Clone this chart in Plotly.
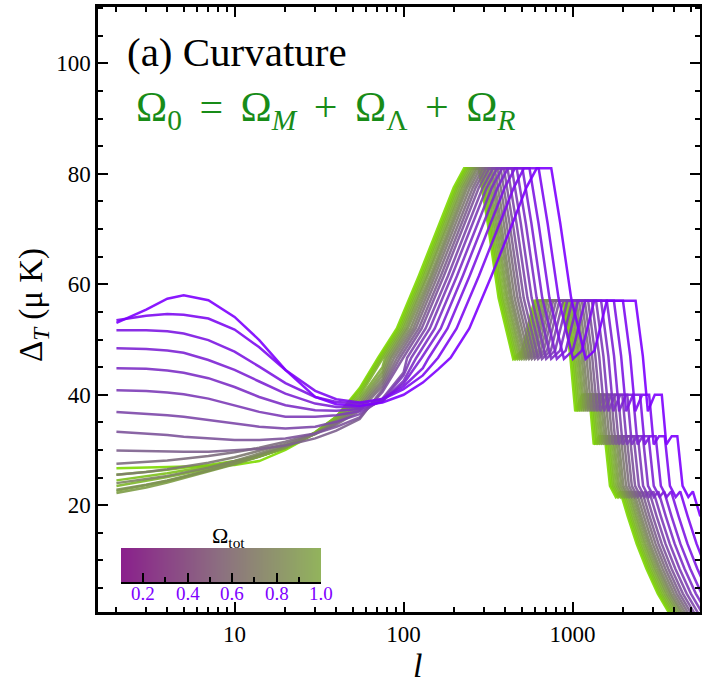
import plotly.graph_objects as go

# ---------------- data ----------------
omega_tot = [0.10, 0.15, 0.20, 0.25, 0.30, 0.35, 0.40, 0.45, 0.50, 0.55,
             0.60, 0.65, 0.70, 0.75, 0.80, 0.85, 0.90, 0.95, 1.00]

# low-multipole part (Sachs-Wolfe / ISW plateau), one row per curve
low_l = [2, 3, 4, 5, 7, 10, 14, 20, 30, 40, 55, 75, 100, 130, 160]
low_vals = [
    [53.0, 55.4, 57.4, 58.0, 57.1, 54.1, 49.9, 44.5, 39.6, 38.3, 38.0, 38.6, 40.0, 42.2, 44.6],
    [53.5, 54.3, 54.6, 54.5, 53.8, 51.8, 48.6, 44.5, 40.7, 39.2, 38.6, 39.2, 41.0, 43.5],
    [51.7, 51.7, 51.5, 51.1, 49.9, 47.8, 45.1, 42.1, 39.6, 38.7, 38.4, 39.3, 41.5, 44.8],
    [48.4, 48.3, 48.0, 47.6, 46.3, 44.5, 42.4, 40.2, 38.4, 37.8, 37.8, 39.0, 42.0],
    [44.8, 44.7, 44.4, 44.0, 43.0, 41.4, 39.6, 38.1, 37.2, 37.1, 37.4, 38.8, 42.5],
    [40.8, 40.7, 40.4, 40.1, 39.3, 38.1, 36.9, 36.0, 36.0, 36.3, 37.0, 39.0, 43.5],
    [36.9, 36.6, 36.3, 36.0, 35.4, 34.8, 34.2, 33.9, 34.2, 35.1, 36.5, 39.3, 44.0],
    [33.3, 33.0, 32.7, 32.4, 32.1, 31.8, 31.8, 32.1, 33.0, 34.2, 35.9, 40.5],
    [29.9, 29.8, 29.7, 29.7, 29.7, 29.9, 30.2, 30.8, 32.1, 33.5, 35.6, 41.0],
    [27.5, 27.8, 28.1, 28.4, 28.9, 29.6, 30.4, 31.5, 33.0, 34.6, 37.1, 41.6],
    [25.5, 26.0, 26.5, 27.0, 27.7, 28.7, 29.8, 31.1, 32.9, 34.8, 37.5, 42.2],
    [24.0, 24.7, 25.3, 25.9, 26.8, 28.0, 29.3, 30.8, 32.9, 35.0, 37.9, 42.8],
    [22.8, 23.7, 24.5, 25.2, 26.3, 27.6, 29.0, 30.6, 32.9, 35.2, 38.3, 43.5],
    [22.2, 23.2, 24.1, 24.9, 26.0, 27.4, 28.8, 30.5, 33.0, 35.4, 38.8, 44.2],
    [22.6, 23.6, 24.4, 25.1, 26.2, 27.5, 28.8, 30.4, 33.0, 35.6, 39.3, 45.0],
    [23.5, 24.4, 25.1, 25.7, 26.6, 27.7, 28.8, 30.4, 33.1, 35.8, 39.8],
    [24.5, 25.2, 25.8, 26.3, 27.0, 27.9, 28.9, 30.4, 33.2, 36.0, 40.3],
    [25.5, 26.0, 26.4, 26.8, 27.3, 28.0, 28.9, 30.3, 33.2, 36.0, 40.8],
    [26.7, 26.8, 26.9, 27.0, 27.1, 27.3, 28.0, 30.0, 33.0, 36.0, 41.2],
]

# acoustic-peak part: multipoles of the turning points of each curve
acoustic_ell = [
    [190, 245, 331, 454, 533, 613, 748, 846, 981, 1195, 1349, 1594, 2360, 2605, 2789, 3065, 3372, 3586, 3862, 4168, 4475, 4843, 5149, 5701],
    [160, 206, 279, 382, 449, 516, 630, 712, 826, 1006, 1135, 1342, 1987, 2193, 2348, 2580, 2838, 3019, 3251, 3509, 3767, 4076, 4334, 4799, 5418, 6192],
    [141, 182, 246, 337, 397, 456, 556, 629, 730, 889, 1003, 1186, 1756, 1938, 2075, 2280, 2508, 2668, 2873, 3101, 3329, 3602, 3830, 4241, 4788, 5472, 6384],
    [128, 166, 224, 306, 360, 414, 505, 571, 662, 807, 911, 1076, 1594, 1760, 1884, 2070, 2277, 2422, 2608, 2815, 3022, 3271, 3478, 3850, 4347, 4968, 5796],
    [119, 153, 207, 283, 333, 383, 467, 529, 613, 747, 843, 996, 1475, 1628, 1743, 1915, 2107, 2241, 2413, 2604, 2796, 3026, 3217, 3562, 4022, 4596, 5362, 6396],
    [111, 143, 193, 265, 311, 358, 437, 494, 573, 698, 788, 931, 1378, 1522, 1629, 1790, 1969, 2094, 2255, 2434, 2613, 2828, 3007, 3329, 3759, 4296, 5012, 5979],
    [105, 135, 183, 250, 294, 338, 412, 466, 541, 659, 744, 879, 1301, 1437, 1538, 1690, 1859, 1977, 2129, 2298, 2467, 2670, 2839, 3143, 3549, 4056, 4732, 5645, 10140],
    [99.5, 128, 173, 238, 279, 321, 392, 443, 514, 626, 706, 835, 1236, 1364, 1461, 1605, 1766, 1878, 2022, 2183, 2343, 2536, 2696, 2985, 3371, 3852, 4494, 5361, 9630],
    [95.2, 123, 166, 227, 267, 307, 375, 424, 491, 599, 675, 798, 1182, 1305, 1397, 1535, 1689, 1796, 1934, 2088, 2241, 2425, 2579, 2855, 3224, 3684, 4298, 5127, 9210],
    [91.5, 118, 159, 218, 257, 295, 360, 407, 472, 575, 649, 767, 1136, 1254, 1342, 1475, 1623, 1726, 1859, 2006, 2154, 2331, 2478, 2744, 3098, 3540, 4130, 4927, 8850],
    [88.0, 114, 153, 210, 247, 284, 346, 392, 454, 554, 625, 738, 1093, 1207, 1292, 1420, 1562, 1661, 1789, 1931, 2073, 2244, 2386, 2641, 2982, 3408, 3976, 4743, 8520],
    [84.9, 110, 148, 203, 238, 274, 334, 378, 438, 534, 603, 712, 1055, 1165, 1247, 1370, 1507, 1603, 1726, 1863, 2000, 2165, 2302, 2548, 2877, 3288, 3836, 4576, 8220],
    [82.5, 106, 144, 197, 231, 266, 325, 367, 426, 519, 585, 692, 1024, 1131, 1210, 1330, 1463, 1556, 1676, 1809, 1942, 2101, 2234, 2474, 2793, 3192, 3724, 4442, 7980],
    [80.0, 103, 139, 191, 224, 258, 315, 356, 413, 503, 568, 671, 993, 1096, 1174, 1290, 1419, 1509, 1625, 1754, 1883, 2038, 2167, 2399, 2709, 3096, 3612, 4309, 7740],
    [77.8, 100, 136, 186, 218, 251, 306, 346, 402, 489, 552, 653, 966, 1067, 1142, 1255, 1380, 1468, 1581, 1707, 1832, 1983, 2108, 2334, 2636, 3012, 3514, 4192, 7530],
    [75.6, 97.6, 132, 181, 212, 244, 298, 337, 390, 476, 537, 634, 939, 1037, 1110, 1220, 1342, 1427, 1537, 1659, 1781, 1928, 2050, 2269, 2562, 2928, 3416, 4075, 7320],
    [73.8, 95.2, 129, 176, 207, 238, 290, 328, 381, 464, 524, 619, 916, 1012, 1083, 1190, 1309, 1392, 1499, 1618, 1737, 1880, 1999, 2213, 2499, 2856, 3332, 3975, 7140],
    [72.2, 93.2, 126, 172, 203, 233, 284, 322, 373, 454, 513, 606, 897, 990, 1060, 1165, 1282, 1363, 1468, 1584, 1701, 1841, 1957, 2167, 2446, 2796, 3262, 3891, 6990],
    [70.7, 91.2, 123, 169, 198, 228, 278, 315, 365, 445, 502, 593, 878, 969, 1037, 1140, 1254, 1334, 1436, 1550, 1664, 1801, 1915, 2120, 2394, 2736, 3192, 3808, 6840],
]
# the turning-point heights are common to all curves (peaks flatten at 81, 57, 40, 32.5, 22.5)
acoustic_dT = [46.7, 52.0, 61.5, 72.0, 77.5, 81.0, 81.0, 71.0, 57.5, 46.5, 48.0, 57.0, 57.0,
               47.0, 37.0, 40.0, 40.0, 31.0, 32.5, 32.5, 23.5, 21.5, 22.5, 18.0, 13.0,
               8.5, 4.0, 0.0, 0.0]

x_tick_vals = [10, 100, 1000]
x_tick_text = ["10", "100", "1000"]
y_tick_vals = [20, 40, 60, 80, 100]
bar_tick_vals = [0.2, 0.4, 0.6, 0.8, 1.0]
bar_tick_text = ["0.2", "0.4", "0.6", "0.8", "1.0"]

# ---------------- layout helpers ----------------
W, H = 702, 686
L, R, T, B = 98, 700, 7, 612
BAR_L, BAR_R, BAR_T, BAR_B = 121, 321, 548, 582


def fx(px):
    return (px - L) / (R - L)


def fy(py):
    return (B - py) / (B - T)


PURPLE = (126, 0, 255)
GREEN = (126, 218, 0)


def curve_color(om):
    t = (om - 0.1) / 0.9
    c = [round(PURPLE[i] + (GREEN[i] - PURPLE[i]) * t) for i in range(3)]
    return f"rgb({c[0]},{c[1]},{c[2]})"


fig = go.Figure()
for k in reversed(range(len(omega_tot))):
    v = low_vals[k]
    ae = acoustic_ell[k]
    xs = low_l[:len(v)] + ae
    ys = v + acoustic_dT[:len(ae)]
    fig.add_trace(go.Scatter(
        x=xs, y=ys, mode="lines",
        line=dict(color=curve_color(omega_tot[k]), width=2.5),
        opacity=0.9, showlegend=False, hoverinfo="skip",
    ))

# colour bar inset
fig.add_trace(go.Heatmap(
    z=[omega_tot], x=omega_tot, y=[0], xaxis="x2", yaxis="y2",
    colorscale=[[0, "rgb(138,32,140)"], [0.5, "rgb(140,112,128)"], [1, "rgb(146,180,92)"]],
    zsmooth="best", showscale=False, hoverinfo="skip",
))

serif = "Liberation Serif, Times New Roman, serif"
axis_common = dict(
    showline=True, linecolor="black", linewidth=2.5, mirror="ticks",
    ticks="inside", ticklen=10, tickwidth=2, tickcolor="black",
    showgrid=False, zeroline=False, automargin=False,
    tickfont=dict(family=serif, size=23, color="black"),
)

fig.update_layout(
    template=None,
    width=W, height=H, autosize=False,
    margin=dict(l=L, r=W - R, t=T, b=H - B, pad=0),
    paper_bgcolor="white", plot_bgcolor="white",
    showlegend=False,
    xaxis=dict(type="log", range=[0.192, 3.754], tickvals=x_tick_vals, ticktext=x_tick_text,
               minor=dict(ticks="inside", ticklen=5, tickwidth=1.5, tickcolor="black",
                          tickvals=[2, 3, 4, 5, 6, 7, 8, 9, 20, 30, 40, 50, 60, 70, 80, 90,
                                    200, 300, 400, 500, 600, 700, 800, 900, 2000, 3000, 4000, 5000]),
               **axis_common),
    yaxis=dict(range=[0.67, 110.2], tickvals=y_tick_vals,
               minor=dict(ticks="inside", ticklen=5, tickwidth=1.5, tickcolor="black", dtick=5),
               **axis_common),
    xaxis2=dict(domain=[fx(BAR_L), fx(BAR_R)], anchor="y2", range=[0.1, 1.0],
                tickvals=bar_tick_vals, showticklabels=False, ticks="inside", ticklen=9,
                tickwidth=2, tickcolor="black", showline=True, linecolor="black", linewidth=2,
                minor=dict(ticks="inside", ticklen=5, tickwidth=2, tickcolor="black",
                           tickvals=[0.1, 0.3, 0.5, 0.7, 0.9]),
                showgrid=False, zeroline=False, automargin=False),
    yaxis2=dict(domain=[fy(BAR_B), fy(BAR_T)], anchor="x2", range=[-0.5, 0.5],
                showticklabels=False, ticks="", showgrid=False, zeroline=False,
                showline=False, automargin=False),
)

ann = []
ann.append(dict(text="(a) Curvature", x=fx(125), y=fy(52), xanchor="left", yanchor="middle",
                font=dict(family=serif, size=41, color="black")))
sp = "\u00a0\u2006"
ann.append(dict(text=f"Ω<sub>0</sub>{sp}={sp}Ω<sub><i>M</i></sub>{sp}+{sp}Ω<sub>Λ</sub>{sp}+{sp}Ω<sub><i>R</i></sub>",
                x=fx(134), y=fy(110), xanchor="left", yanchor="middle",
                font=dict(family=serif, size=42, color="rgb(24,140,24)")))
ann.append(dict(text="Ω<sub>tot</sub>", x=fx(228), y=fy(537), xanchor="center", yanchor="middle",
                font=dict(family=serif, size=22, color="black")))
for v, t in zip(bar_tick_vals, bar_tick_text):
    px = BAR_L + (v - 0.1) / 0.9 * (BAR_R - BAR_L)
    ann.append(dict(text=t, x=fx(px), y=fy(593), xanchor="center", yanchor="middle",
                    font=dict(family=serif, size=19, color="rgb(128,0,255)")))
ann.append(dict(text="Δ<sub><i>T</i></sub> (μ K)", x=fx(33), y=fy(305), xanchor="center",
                yanchor="middle", textangle=-90,
                font=dict(family=serif, size=33, color="black")))
ann.append(dict(text="<i>l</i>", x=fx(417), y=fy(665), xanchor="center", yanchor="middle",
                font=dict(family=serif, size=34, color="black")))
for a in ann:
    a.update(xref="paper", yref="paper", showarrow=False)
fig.update_layout(annotations=ann)

fig.write_html("out.html")
